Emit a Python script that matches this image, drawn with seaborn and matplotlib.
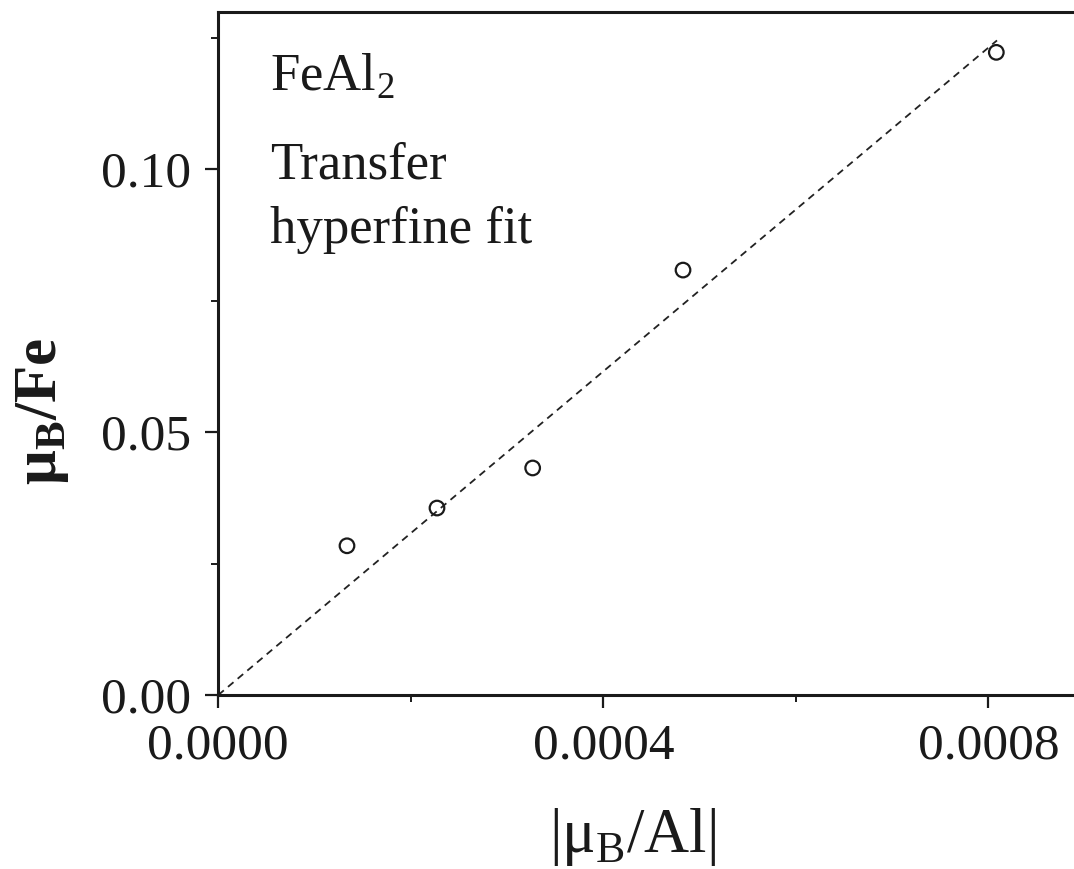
import matplotlib
matplotlib.use("Agg")
import matplotlib.pyplot as plt
from matplotlib.ticker import MultipleLocator, FormatStrFormatter
import seaborn as sns
import pandas as pd

# Measured moments: Al transfer moment vs Fe moment (FeAl2)
mu_al = [0.0001337, 0.0002272, 0.0003266, 0.0004828, 0.0008083]
mu_fe = [0.02838, 0.03556, 0.04318, 0.08082, 0.12223]

# Linear fit through the origin
fit_x = [0.0, 0.000809]
fit_y = [0.0, 0.1245]

x_ticks = [0.0, 0.0004, 0.0008]
y_ticks = [0.00, 0.05, 0.10]

sns.set_theme(style="ticks")
plt.rcParams["font.family"] = ["Liberation Serif", "DejaVu Serif"]
plt.rcParams["mathtext.fontset"] = "custom"
plt.rcParams["mathtext.rm"] = "Liberation Serif"
plt.rcParams["mathtext.bf"] = "Liberation Serif:bold"

ink = "#1a1a1a"

fig = plt.figure(figsize=(10.74, 8.69), dpi=100)
ax = fig.add_axes([218.3 / 1074, 1 - 695 / 869, 1 - 218.3 / 1074, (695 - 11.5) / 869])

pts = pd.DataFrame({"al": mu_al, "fe": mu_fe})
fit = pd.DataFrame({"al": fit_x, "fe": fit_y})

sns.lineplot(data=fit, x="al", y="fe", ax=ax, color="#222222", lw=1.3,
             dashes=False, linestyle=(0, (4, 3)))
sns.scatterplot(data=pts, x="al", y="fe", ax=ax, marker="o", s=110,
                facecolor="none", edgecolor=ink, linewidth=1.6, zorder=3)

ax.set_xlim(0, 0.000889)
ax.set_ylim(0, 0.13)
ax.set_xticks(x_ticks)
ax.set_yticks(y_ticks)
ax.xaxis.set_minor_locator(MultipleLocator(0.0002))
ax.yaxis.set_minor_locator(MultipleLocator(0.025))
ax.xaxis.set_major_formatter(FormatStrFormatter("%.4f"))
ax.yaxis.set_major_formatter(FormatStrFormatter("%.2f"))

for side in ["left", "bottom", "top"]:
    ax.spines[side].set_linewidth(2.2)
    ax.spines[side].set_color(ink)
ax.spines["right"].set_visible(False)

ax.tick_params(which="major", direction="out", length=9.5, width=1.6,
               labelsize=37, color=ink, labelcolor=ink)
ax.tick_params(axis="x", which="major", pad=11)
ax.tick_params(axis="y", which="major", pad=10)
ax.tick_params(which="minor", direction="out", length=5, width=1.4, color=ink)
ax.tick_params(top=False, right=False, which="both")

ax.set_xlabel(r"|μ$_\mathregular{B}$/Al|", fontsize=45, color=ink)
ax.xaxis.set_label_coords(0.4846, -0.162)
ax.set_ylabel(r"μ$_\mathbf{B}$/Fe", fontsize=44, color=ink, fontweight="bold")
ax.yaxis.set_label_coords(-0.172, 0.4155)

ax.text(0.0604, 0.885, r"FeAl$_\mathregular{2}$", transform=ax.transAxes,
        fontsize=38, va="baseline", ha="left", color=ink)
ax.text(0.0604, 0.756, "Transfer", transform=ax.transAxes,
        fontsize=38, va="baseline", ha="left", color=ink)
ax.text(0.0604, 0.661, "hyperfine fit", transform=ax.transAxes,
        fontsize=38, va="baseline", ha="left", color=ink)

fig.savefig("out.png", dpi=100)
